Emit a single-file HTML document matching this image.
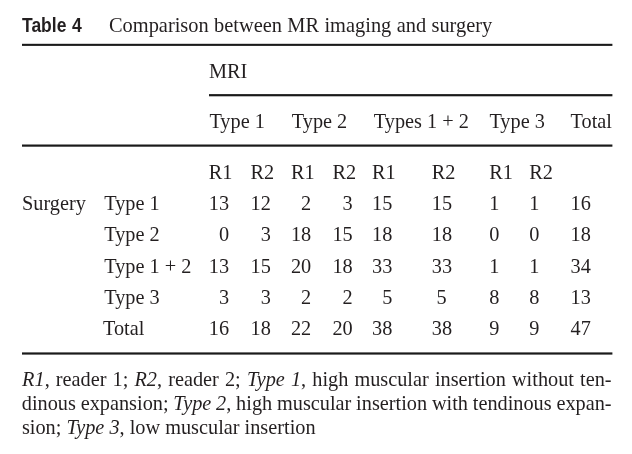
<!DOCTYPE html>
<html><head><meta charset="utf-8"><style>
html,body{margin:0;padding:0;background:#fff;-webkit-font-smoothing:antialiased;will-change:transform;}
body{width:632px;height:454px;position:relative;overflow:hidden;}
.t{position:absolute;white-space:pre;font-family:"Liberation Serif",serif;line-height:1;color:#231f20;}
.hd{position:absolute;white-space:pre;font-family:"Liberation Sans",sans-serif;font-weight:bold;line-height:1;color:#231f20;transform-origin:0 0;}
.rs{position:absolute;left:0;top:0;}
.fn{position:absolute;font-family:"Liberation Serif",serif;font-size:20.3px;line-height:1;white-space:nowrap;color:#231f20;}
#w{position:absolute;left:0;top:0;width:632px;height:454px;background:#fff;}
</style></head><body><div id="w">
<div class="hd" style="left:21.6px;top:15.07px;font-size:20px;transform:scaleX(0.875)">Table</div>
<div class="hd" style="left:71.6px;top:15.07px;font-size:20px;transform:scaleX(0.88)">4</div>
<div class="t" style="left:109.00px;top:14.61px;font-size:20.4px;word-spacing:0.27px">Comparison between MR imaging and surgery</div>

<div class="t" style="left:209.00px;top:60.90px;font-size:20.3px;">MRI</div>

<div class="t" style="left:209.40px;top:110.70px;font-size:20.3px;">Type 1</div>
<div class="t" style="left:291.80px;top:110.70px;font-size:20.3px;">Type 2</div>
<div class="t" style="left:373.80px;top:110.70px;font-size:20.3px;">Types 1 + 2</div>
<div class="t" style="left:489.40px;top:110.70px;font-size:20.3px;">Type 3</div>
<div class="t" style="left:570.60px;top:110.70px;font-size:20.3px;">Total</div>

<div class="t" style="left:208.80px;top:161.60px;font-size:20.3px;">R1</div>
<div class="t" style="left:250.60px;top:161.60px;font-size:20.3px;">R2</div>
<div class="t" style="left:290.90px;top:161.60px;font-size:20.3px;">R1</div>
<div class="t" style="left:332.40px;top:161.60px;font-size:20.3px;">R2</div>
<div class="t" style="left:372.00px;top:161.60px;font-size:20.3px;">R1</div>
<div class="t" style="left:431.80px;top:161.60px;font-size:20.3px;">R2</div>
<div class="t" style="left:489.20px;top:161.60px;font-size:20.3px;">R1</div>
<div class="t" style="left:529.20px;top:161.60px;font-size:20.3px;">R2</div>
<div class="t" style="left:22.00px;top:192.60px;font-size:20.3px;">Surgery</div>
<div class="t" style="left:104.20px;top:192.60px;font-size:20.3px;">Type 1</div>
<div class="t" style="left:208.80px;top:192.60px;font-size:20.3px;">13</div>
<div class="t" style="left:250.60px;top:192.60px;font-size:20.3px;">12</div>
<div class="t" style="left:301.05px;top:192.60px;font-size:20.3px;">2</div>
<div class="t" style="left:342.55px;top:192.60px;font-size:20.3px;">3</div>
<div class="t" style="left:372.00px;top:192.60px;font-size:20.3px;">15</div>
<div class="t" style="left:431.80px;top:192.60px;font-size:20.3px;">15</div>
<div class="t" style="left:489.20px;top:192.60px;font-size:20.3px;">1</div>
<div class="t" style="left:529.20px;top:192.60px;font-size:20.3px;">1</div>
<div class="t" style="left:570.60px;top:192.60px;font-size:20.3px;">16</div>
<div class="t" style="left:104.20px;top:224.00px;font-size:20.3px;">Type 2</div>
<div class="t" style="left:218.95px;top:224.00px;font-size:20.3px;">0</div>
<div class="t" style="left:260.75px;top:224.00px;font-size:20.3px;">3</div>
<div class="t" style="left:290.90px;top:224.00px;font-size:20.3px;">18</div>
<div class="t" style="left:332.40px;top:224.00px;font-size:20.3px;">15</div>
<div class="t" style="left:372.00px;top:224.00px;font-size:20.3px;">18</div>
<div class="t" style="left:431.80px;top:224.00px;font-size:20.3px;">18</div>
<div class="t" style="left:489.20px;top:224.00px;font-size:20.3px;">0</div>
<div class="t" style="left:529.20px;top:224.00px;font-size:20.3px;">0</div>
<div class="t" style="left:570.60px;top:224.00px;font-size:20.3px;">18</div>
<div class="t" style="left:104.20px;top:255.60px;font-size:20.3px;">Type 1 + 2</div>
<div class="t" style="left:208.80px;top:255.60px;font-size:20.3px;">13</div>
<div class="t" style="left:250.60px;top:255.60px;font-size:20.3px;">15</div>
<div class="t" style="left:290.90px;top:255.60px;font-size:20.3px;">20</div>
<div class="t" style="left:332.40px;top:255.60px;font-size:20.3px;">18</div>
<div class="t" style="left:372.00px;top:255.60px;font-size:20.3px;">33</div>
<div class="t" style="left:431.80px;top:255.60px;font-size:20.3px;">33</div>
<div class="t" style="left:489.20px;top:255.60px;font-size:20.3px;">1</div>
<div class="t" style="left:529.20px;top:255.60px;font-size:20.3px;">1</div>
<div class="t" style="left:570.60px;top:255.60px;font-size:20.3px;">34</div>
<div class="t" style="left:104.20px;top:286.90px;font-size:20.3px;">Type 3</div>
<div class="t" style="left:218.95px;top:286.90px;font-size:20.3px;">3</div>
<div class="t" style="left:260.75px;top:286.90px;font-size:20.3px;">3</div>
<div class="t" style="left:301.05px;top:286.90px;font-size:20.3px;">2</div>
<div class="t" style="left:342.55px;top:286.90px;font-size:20.3px;">2</div>
<div class="t" style="left:382.15px;top:286.90px;font-size:20.3px;">5</div>
<div class="t" style="left:436.57px;top:286.90px;font-size:20.3px;">5</div>
<div class="t" style="left:489.20px;top:286.90px;font-size:20.3px;">8</div>
<div class="t" style="left:529.20px;top:286.90px;font-size:20.3px;">8</div>
<div class="t" style="left:570.60px;top:286.90px;font-size:20.3px;">13</div>
<div class="t" style="left:103.00px;top:317.60px;font-size:20.3px;">Total</div>
<div class="t" style="left:208.80px;top:317.60px;font-size:20.3px;">16</div>
<div class="t" style="left:250.60px;top:317.60px;font-size:20.3px;">18</div>
<div class="t" style="left:290.90px;top:317.60px;font-size:20.3px;">22</div>
<div class="t" style="left:332.40px;top:317.60px;font-size:20.3px;">20</div>
<div class="t" style="left:372.00px;top:317.60px;font-size:20.3px;">38</div>
<div class="t" style="left:431.80px;top:317.60px;font-size:20.3px;">38</div>
<div class="t" style="left:489.20px;top:317.60px;font-size:20.3px;">9</div>
<div class="t" style="left:529.20px;top:317.60px;font-size:20.3px;">9</div>
<div class="t" style="left:570.60px;top:317.60px;font-size:20.3px;">47</div>

<div class="fn" style="left:22.1px;top:369.30px;word-spacing:1.046px"><i>R1</i>, reader 1; <i>R2</i>, reader 2; <i>Type 1</i>, high muscular insertion without ten-</div>
<div class="fn" style="left:21.8px;top:393.30px;word-spacing:-0.269px">dinous expansion; <i>Type 2</i>, high muscular insertion with tendinous expan-</div>
<div class="fn" style="left:21.9px;top:417.20px;word-spacing:0.000px">sion; <i>Type 3</i>, low muscular insertion</div>
<svg class="rs" width="632" height="454" viewBox="0 0 632 454"><g fill="#1a1a1a"><rect x="22" y="43.8" width="590.4" height="2.1"/><rect x="209" y="94.1" width="403.4" height="2.2"/><rect x="22" y="144.5" width="590.4" height="2.2"/><rect x="22" y="352.4" width="590.4" height="2.2"/></g></svg>
</div></body></html>
